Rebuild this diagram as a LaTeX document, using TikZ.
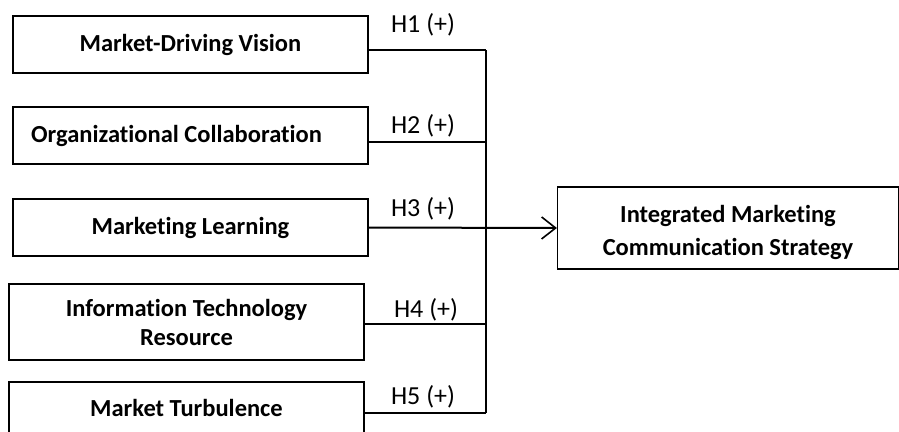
\documentclass[tikz,border=0pt]{standalone}
\usepackage{fontspec}
\setmainfont{Carlito}[Ligatures={NoCommon,NoRequired,NoContextual}]
\usetikzlibrary{arrows.meta}
\begin{document}
\begin{tikzpicture}[x=1pt,y=-1pt,
  box/.style={draw, line width=1.2pt, minimum width=355pt, align=center, inner sep=0pt,
    font=\fontsize{24.5}{29}\selectfont\bfseries},
  hyp/.style={inner sep=0pt, font=\fontsize{26}{30}\selectfont},
  link/.style={line width=1.4pt}]
\useasboundingbox (0,0) rectangle (899,431);
\clip (0,0) rectangle (899,431);
\node[box, minimum height=57pt] (b1) at (190.5,44.5) {Market-Driving Vision};
\node[box, minimum height=57pt] (b2) at (190.5,135.5) {Organizational Collaboration\hspace*{28pt}};
\node[box, minimum height=57pt] (b3) at (190.5,227.5) {Marketing Learning};
\node[box, minimum height=76pt] (b4) at (186.5,322) {Information Technology\\Resource};
\node[box, minimum height=52pt] (b5) at (186.5,408) {Market Turbulence};
\node[box, minimum width=341pt, minimum height=82pt, font=\fontsize{24.5}{33}\selectfont\bfseries] (t) at (728,228) {\rule{0pt}{26pt}Integrated Marketing\\Communication Strategy};
\coordinate (j1) at (486,50);
\coordinate (j2) at (486,142);
\coordinate (j4) at (486,324);
\coordinate (j5) at (486,413);
\draw[link] (b1.east |- j1) -- (j1);
\draw[link] (b2.east |- j2) -- (j2);
\draw[link] (b4.east |- j4) -- (j4);
\draw[link] (b5.east |- j5) -- (j5);
\draw[link] (j1) -- (j5);
\draw[line width=2pt, -{Straight Barb[length=14pt,width=22pt,line width=1.6pt]}] (b3.east) -- (t.west);
\node[hyp] (h1) at (423,25) {H1 (+)};
\node[hyp] (h2) at (423,126) {H2 (+)};
\node[hyp] (h3) at (423,209) {H3 (+)};
\node[hyp] (h4) at (426,310) {H4 (+)};
\node[hyp] (h5) at (423,397) {H5 (+)};
\end{tikzpicture}
\end{document}
